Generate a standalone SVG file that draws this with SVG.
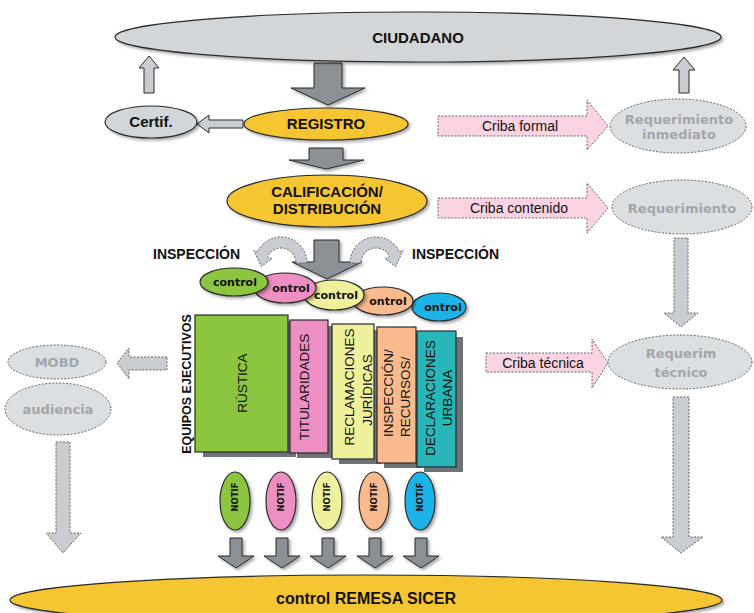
<svg xmlns="http://www.w3.org/2000/svg" width="754" height="613" viewBox="0 0 754 613">
<style>
text{font-family:"Liberation Sans",Arial,sans-serif;}
.b{font-weight:bold;fill:#111;}
.main{font-size:15px;text-anchor:middle;}
.gray{font-family:"DejaVu Sans",Verdana,sans-serif;font-weight:bold;font-size:13px;fill:#a2a6aa;text-anchor:middle;}
.ctl{font-family:"DejaVu Sans",Verdana,sans-serif;font-weight:bold;font-size:11px;fill:#111;text-anchor:middle;}
.notif{font-family:"DejaVu Sans",Verdana,sans-serif;font-weight:bold;font-size:8.5px;fill:#111;text-anchor:middle;}
.criba{font-size:14px;fill:#111;text-anchor:middle;}
.rt{font-size:13.5px;fill:#111;}
.solid{stroke:#2a2a2a;stroke-width:1.2;}
.dash{fill:#dcdfe2;stroke:#555;stroke-width:0.9;stroke-dasharray:2 1.5;}
.arrowDark{fill:#8b9094;stroke:#2a2a2a;stroke-width:1;}
.arrowLight{fill:#c9cdd1;stroke:#2a2a2a;stroke-width:1;}
.arrowDash{fill:#c9cdd1;stroke:#555;stroke-width:0.9;stroke-dasharray:2 1.5;}
.pink{fill:#fbd3e3;stroke:#555;stroke-width:0.9;stroke-dasharray:2 1.5;}
.shadowRect{fill:#6e7378;}
</style>
<defs>
<filter id="sh" x="-10%" y="-10%" width="130%" height="140%">
<feDropShadow dx="2" dy="2" stdDeviation="1.5" flood-color="#000" flood-opacity="0.35"/>
</filter>
</defs>
<rect width="754" height="613" fill="#ffffff"/>

<g id="connectors">
<path class="arrowLight" d="M144,93 L154,93 L154,68 L159,68 L149,56 L139,68 L144,68 Z"/>
<path class="arrowLight" d="M679,93 L689,93 L689,70 L695,70 L684,57 L673,70 L679,70 Z"/>
<path class="arrowDark" filter="url(#sh)" d="M314,63 L342,63 L342,88 L365,88 L328,105 L291,88 L314,88 Z"/>
<path class="arrowDark" filter="url(#sh)" d="M309,148 L343,148 L343,160 L364,160 L326,169 L289,160 L309,160 Z"/>
<path class="arrowDark" filter="url(#sh)" d="M314,240 L339,240 L339,262 L362,262 L327,279 L292,262 L314,262 Z"/>
<path class="arrowLight" d="M243,120 L209,120 L209,115 L197,124 L209,133 L209,128 L243,128 Z"/>
<path class="arrowDash" transform="translate(281,263)" d="M26,0 A26,26 0 0 0 -23.6,-11 L-27.2,-12.7 L-19.7,3.5 L-9.1,-4.2 L-13.6,-6.3 A15,15 0 0 1 15,0 Z"/>
<path class="arrowDash" transform="translate(376,263) scale(-1,1)" d="M26,0 A26,26 0 0 0 -23.6,-11 L-27.2,-12.7 L-19.7,3.5 L-9.1,-4.2 L-13.6,-6.3 A15,15 0 0 1 15,0 Z"/>
<path class="pink" d="M438,116 L587,116 L587,100 L608,126 L587,150 L587,136 L438,136 Z"/>
<path class="pink" d="M438,198 L587,198 L587,183 L608,208 L587,233 L587,218 L438,218 Z"/>
<path class="pink" d="M486,353 L592,353 L592,339 L608,363 L592,388 L592,372 L486,372 Z"/>
<path class="arrowDash" d="M674,238 L688,238 L688,313 L698,313 L681,327 L664,313 L674,313 Z"/>
<path class="arrowDash" d="M673,397 L689,397 L689,537 L703,537 L681,553 L661,537 L673,537 Z"/>
<path class="arrowDash" d="M167,357 L129,357 L129,348 L117,363 L129,379 L129,370 L167,370 Z"/>
<path class="arrowDash" d="M56,442 L70,442 L70,533 L81,533 L63,553 L46,533 L56,533 Z"/>
<path class="arrowDark" filter="url(#sh)" d="M230,538 L242,538 L242,556 L254,556 L236,568 L218,556 L230,556 Z"/>
<path class="arrowDark" filter="url(#sh)" d="M276,538 L288,538 L288,556 L300,556 L282,568 L264,556 L276,556 Z"/>
<path class="arrowDark" filter="url(#sh)" d="M322,538 L334,538 L334,556 L346,556 L328,568 L310,556 L322,556 Z"/>
<path class="arrowDark" filter="url(#sh)" d="M369,538 L381,538 L381,556 L393,556 L375,568 L357,556 L369,556 Z"/>
<path class="arrowDark" filter="url(#sh)" d="M415,538 L427,538 L427,556 L439,556 L421,568 L403,556 L415,556 Z"/>
</g>

<g id="ciudadano">
<ellipse cx="418" cy="37" rx="303" ry="25" fill="#d3d6d9" class="solid" filter="url(#sh)"/>
<text class="b main" x="418" y="43">CIUDADANO</text>
</g>

<g id="certif">
<ellipse cx="151" cy="122" rx="46" ry="16" fill="#d3d6d9" class="solid" filter="url(#sh)"/>
<text class="b main" x="151" y="127">Certif.</text>
</g>

<g id="registro">
<ellipse cx="326" cy="124" rx="82" ry="16" fill="#f5c533" class="solid" filter="url(#sh)"/>
<text class="b main" x="326" y="129">REGISTRO</text>
</g>

<g id="calificacion">
<ellipse cx="327" cy="201" rx="100" ry="26" fill="#f5c533" class="solid" filter="url(#sh)"/>
<text class="b main" x="327" y="197">CALIFICACIÓN/</text>
<text class="b main" x="327" y="214">DISTRIBUCIÓN</text>
</g>

<g id="criba-formal-label"><text class="criba" x="520" y="131">Criba formal</text></g>
<g id="criba-contenido-label"><text class="criba" x="519" y="213">Criba contenido</text></g>
<g id="criba-tecnica-label"><text class="criba" x="543" y="368">Criba técnica</text></g>

<g id="req-inmediato">
<ellipse class="dash" cx="678" cy="126" rx="68" ry="27"/>
<text class="gray" x="679" y="124">Requerimiento</text>
<text class="gray" x="679" y="139">inmediato</text>
</g>

<g id="requerimiento">
<ellipse class="dash" cx="682" cy="207" rx="70" ry="27"/>
<text class="gray" x="682" y="213">Requerimiento</text>
</g>

<g id="req-tecnico">
<ellipse class="dash" cx="680" cy="362" rx="72" ry="27"/>
<text class="gray" x="681" y="358">Requerim</text>
<text class="gray" x="681" y="377">técnico</text>
</g>

<g id="mobd">
<ellipse class="dash" cx="57" cy="362" rx="49" ry="17"/>
<text class="gray" x="57" y="367">MOBD</text>
</g>

<g id="audiencia">
<ellipse class="dash" cx="58" cy="409" rx="53" ry="26"/>
<text class="gray" x="58" y="414">audiencia</text>
</g>

<g id="inspeccion-left"><text class="b" x="153" y="259" font-size="14">INSPECCIÓN</text></g>
<g id="inspeccion-right"><text class="b" x="412" y="259" font-size="14">INSPECCIÓN</text></g>

<g id="control-blue">
<ellipse cx="439" cy="307" rx="27" ry="14" fill="#1cb4e8" class="solid" filter="url(#sh)"/>
<text class="ctl" x="443" y="311">ontrol</text>
</g>
<g id="control-orange">
<ellipse cx="383" cy="301" rx="30" ry="14" fill="#f9bb8d" class="solid" filter="url(#sh)"/>
<text class="ctl" x="388" y="305">ontrol</text>
</g>
<g id="control-yellow">
<ellipse cx="334" cy="295" rx="30" ry="15" fill="#eef09b" class="solid" filter="url(#sh)"/>
<text class="ctl" x="336" y="299">control</text>
</g>
<g id="control-pink">
<ellipse cx="285" cy="288" rx="31" ry="15" fill="#ee8fc4" class="solid" filter="url(#sh)"/>
<text class="ctl" x="291" y="292">ontrol</text>
</g>
<g id="control-green">
<ellipse cx="234" cy="282" rx="34" ry="14" fill="#8cc63f" class="solid" filter="url(#sh)"/>
<text class="ctl" x="235" y="286">control</text>
</g>

<g id="equipos-label">
<text class="b" font-size="12.5" text-anchor="middle" transform="translate(186,384) rotate(-90)" y="4.5">EQUIPOS EJECUTIVOS</text>
</g>

<g id="shadows">
<rect class="shadowRect" x="203" y="321" width="93" height="136"/>
<rect class="shadowRect" x="297" y="326" width="38" height="132"/>
<rect class="shadowRect" x="339" y="330" width="42" height="134"/>
<rect class="shadowRect" x="384" y="333" width="39" height="135"/>
<rect class="shadowRect" x="424" y="337" width="39" height="135"/>
</g>

<g id="rustica">
<rect x="195" y="315" width="93" height="137" fill="#8cc63f" class="solid"/>
<text class="rt" text-anchor="middle" transform="translate(242,383) rotate(-90)" y="4.7">RÚSTICA</text>
</g>
<g id="titularidades">
<rect x="290" y="320" width="38" height="133" fill="#ee8fc4" class="solid"/>
<text class="rt" text-anchor="middle" transform="translate(304,387) rotate(-90)" y="4.7">TITULARIDADES</text>
</g>
<g id="reclamaciones">
<rect x="332" y="324" width="42" height="135" fill="#eef09b" class="solid"/>
<text class="rt" font-size="13" text-anchor="middle" transform="translate(349,387) rotate(-90)" y="4.5">RECLAMACIONES</text>
<text class="rt" font-size="13" text-anchor="middle" transform="translate(367,390) rotate(-90)" y="4.5">JURÍDICAS</text>
</g>
<g id="inspeccion-recursos">
<rect x="377" y="327" width="39" height="136" fill="#f9bb8d" class="solid"/>
<text class="rt" transform="translate(388,437) rotate(-90)" y="4.7">INSPECCIÓN/</text>
<text class="rt" transform="translate(405,437) rotate(-90)" y="4.7">RECURSOS/</text>
</g>
<g id="declaraciones">
<rect x="417" y="331" width="39" height="136" fill="#27b7b9" class="solid"/>
<text class="rt" text-anchor="middle" transform="translate(430,398) rotate(-90)" y="4.7">DECLARACIONES</text>
<text class="rt" text-anchor="middle" transform="translate(447,398) rotate(-90)" y="4.7">URBANA</text>
</g>

<g id="notif-green">
<ellipse cx="235" cy="501" rx="15" ry="29" fill="#8cc63f" class="solid" filter="url(#sh)"/>
<text class="notif" transform="translate(235,497) rotate(-90)" y="3">NOTIF</text>
</g>
<g id="notif-pink">
<ellipse cx="281" cy="501" rx="15" ry="29" fill="#ee8fc4" class="solid" filter="url(#sh)"/>
<text class="notif" transform="translate(281,497) rotate(-90)" y="3">NOTIF</text>
</g>
<g id="notif-yellow">
<ellipse cx="327" cy="501" rx="15" ry="29" fill="#eef09b" class="solid" filter="url(#sh)"/>
<text class="notif" transform="translate(327,497) rotate(-90)" y="3">NOTIF</text>
</g>
<g id="notif-orange">
<ellipse cx="374" cy="501" rx="15" ry="29" fill="#f9bb8d" class="solid" filter="url(#sh)"/>
<text class="notif" transform="translate(374,497) rotate(-90)" y="3">NOTIF</text>
</g>
<g id="notif-blue">
<ellipse cx="420" cy="501" rx="15" ry="29" fill="#1cb4e8" class="solid" filter="url(#sh)"/>
<text class="notif" transform="translate(420,497) rotate(-90)" y="3">NOTIF</text>
</g>

<g id="remesa">
<ellipse cx="366" cy="600" rx="356" ry="25" fill="#f5c533" class="solid" filter="url(#sh)"/>
<text class="b" x="366" y="604" font-size="16" text-anchor="middle">control REMESA SICER</text>
</g>
</svg>
